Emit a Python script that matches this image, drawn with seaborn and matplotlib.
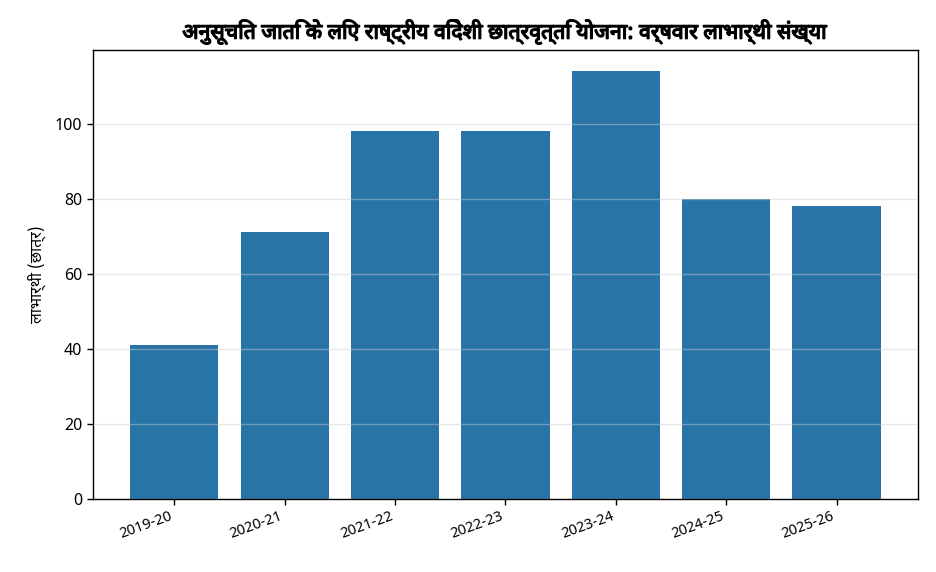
import matplotlib
matplotlib.use("Agg")
import matplotlib.pyplot as plt
import matplotlib.patheffects as pe
import seaborn as sns
import pandas as pd

years = ["2019-20", "2020-21", "2021-22", "2022-23", "2023-24", "2024-25", "2025-26"]
beneficiaries = [41, 71, 98, 98, 114, 80, 78]
title = "अनुसूचित जाति के लिए राष्ट्रीय विदेशी छात्रवृत्ति योजना: वर्षवार लाभार्थी संख्या"
ylabel = "लाभार्थी (छात्र)"

sns.set_style("ticks")
plt.rcParams["font.family"] = ["Noto Sans", "Noto Sans Devanagari", "DejaVu Sans"]
plt.rcParams["text.color"] = "black"
plt.rcParams["axes.labelcolor"] = "black"
plt.rcParams["xtick.color"] = "black"
plt.rcParams["ytick.color"] = "black"
plt.rcParams["axes.edgecolor"] = "black"

df = pd.DataFrame({"year": years, "n": beneficiaries})

fig, ax = plt.subplots(figsize=(9.36, 5.72), dpi=100)
sns.barplot(data=df, x="year", y="n", color="#2874a6", saturation=1, width=0.8,
            linewidth=0, ax=ax)
# plain matplotlib-like margins instead of seaborn's tight categorical limits
ax.set_xlim(-0.4 - 0.34, len(years) - 1 + 0.4 + 0.34)
ax.grid(axis="y", color="#cccccc", alpha=0.45, linewidth=1)
ax.set_axisbelow(False)
t = ax.set_title(title, fontsize=15.3, fontweight="bold", pad=8,
                 family=["Noto Sans Devanagari", "Noto Sans"])
t.set_path_effects([pe.withStroke(linewidth=1.0, foreground="black")])
ax.set_xlabel("")
ax.set_ylabel(ylabel, fontsize=11.5, labelpad=6,
              family=["Noto Sans Devanagari", "Noto Sans"])
ax.tick_params(axis="y", labelsize=11.5, width=1, length=4)
ax.tick_params(axis="x", labelsize=10.5, width=1, length=4, labelrotation=20)
plt.setp(ax.get_xticklabels(), ha="right", rotation_mode="default")
for s in ax.spines.values():
    s.set_visible(True)
    s.set_linewidth(1)
fig.subplots_adjust(left=0.099, right=0.981, top=0.913, bottom=0.128)
fig.savefig("out.png", dpi=100)
